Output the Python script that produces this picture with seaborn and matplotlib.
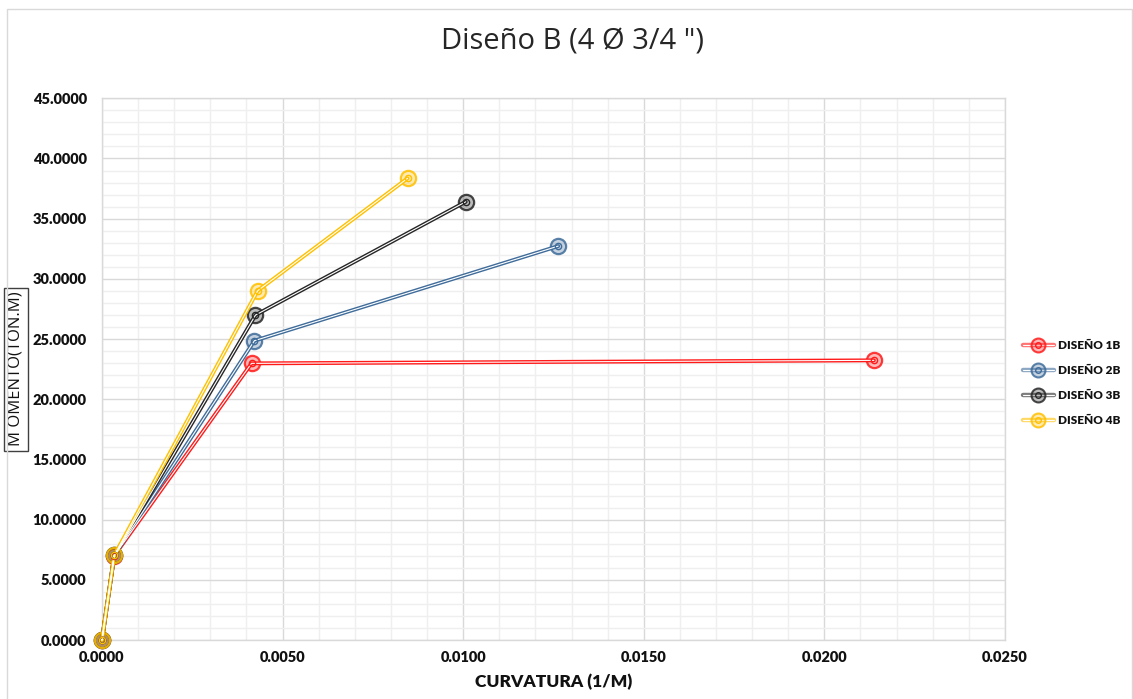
import numpy as np
import pandas as pd
import seaborn as sns
import matplotlib.pyplot as plt
from matplotlib.lines import Line2D
from matplotlib.legend_handler import HandlerTuple
from matplotlib.ticker import MultipleLocator, FormatStrFormatter
from matplotlib.patches import Rectangle
from matplotlib.colors import to_rgb

# Moment-curvature data, one series per design
series = ["DISEÑO 1B", "DISEÑO 2B", "DISEÑO 3B", "DISEÑO 4B"]
curv_1b = [0.0, 0.00034, 0.00414, 0.02137]
mom_1b = [0.0, 7.00, 22.98, 23.23]
curv_2b = [0.0, 0.00034, 0.00422, 0.01263]
mom_2b = [0.0, 7.02, 24.86, 32.72]
curv_3b = [0.0, 0.00034, 0.00425, 0.01007]
mom_3b = [0.0, 7.02, 26.99, 36.40]
curv_4b = [0.0, 0.00034, 0.00431, 0.00846]
mom_4b = [0.0, 7.03, 29.01, 38.35]

colors = ["#FF1A1A", "#3F6C9A", "#262626", "#FFC000"]

frames = []
for name, cx, my in zip(series, [curv_1b, curv_2b, curv_3b, curv_4b],
                        [mom_1b, mom_2b, mom_3b, mom_4b]):
    frames.append(pd.DataFrame({"curv": cx, "mom": my, "serie": name}))
df = pd.concat(frames, ignore_index=True)

sns.set_theme(style="white")
plt.rcParams["font.family"] = ["Lato", "DejaVu Sans"]

fig = plt.figure(figsize=(11.33, 6.99), dpi=100)
ax = fig.add_axes([0.0900, 0.0844, 0.797, 0.775])

# chart frame
fig.patches.append(Rectangle((0.006, -0.01), 0.993, 0.997, transform=fig.transFigure,
                             fill=False, edgecolor="#d9d9d9", linewidth=1.0))

palette = dict(zip(series, colors))
# outer coloured stroke of the double line
sns.lineplot(data=df, x="curv", y="mom", hue="serie", palette=palette, sort=False,
             estimator=None, linewidth=2.8, marker="o", markersize=11,
             markeredgewidth=1.6, legend=False, ax=ax, zorder=3)
for ln, c in zip(ax.lines, colors):
    ln.set_markerfacecolor((*to_rgb(c), 0.3))
    ln.set_markeredgecolor((*to_rgb(c), 0.85))
    ln.set_clip_on(False)
# white core of the double line and the inner ring of the markers
for name, c in zip(series, colors):
    sub = df[df["serie"] == name]
    ax.plot(sub["curv"], sub["mom"], color="white", linewidth=0.8, zorder=4,
            clip_on=False)
    ax.plot(sub["curv"], sub["mom"], linestyle="none", marker="o", markersize=4.5,
            markerfacecolor="none", markeredgecolor=c, markeredgewidth=1.0, zorder=5,
            clip_on=False)

ax.set_xlim(0, 0.025)
ax.set_ylim(0, 45)
ax.xaxis.set_major_locator(MultipleLocator(0.005))
ax.xaxis.set_minor_locator(MultipleLocator(0.001))
ax.yaxis.set_major_locator(MultipleLocator(5))
ax.yaxis.set_minor_locator(MultipleLocator(1))
ax.xaxis.set_major_formatter(FormatStrFormatter("%.4f"))
ax.yaxis.set_major_formatter(FormatStrFormatter("%.4f"))
ax.grid(which="major", color="#d9d9d9", linewidth=1.0)
ax.grid(which="minor", color="#efefef", linewidth=1.0)
ax.set_axisbelow(True)
for sp in ax.spines.values():
    sp.set_color("#d9d9d9")
    sp.set_linewidth(1.0)
ax.tick_params(which="both", length=0)
ax.tick_params(axis="y", pad=11)
ax.tick_params(axis="x", pad=8)
for lab in ax.get_xticklabels() + ax.get_yticklabels():
    lab.set_fontweight("heavy")
    lab.set_fontsize(10.5)
    lab.set_color("#111111")

fig.text(0.5057, 0.94, 'Diseño B (4 Ø 3/4 ")', fontsize=21, color="#262626",
         family=["Open Sans", "DejaVu Sans"], ha="center", va="center")
ax.set_xlabel("CURVATURA (1/M)", fontsize=12.5, fontweight="heavy", color="#111111",
              labelpad=7)
ax.set_ylabel("M OMENTO(TON.M)", fontsize=12, color="#111111",
              family=["Open Sans", "DejaVu Sans"],
              bbox=dict(boxstyle="square,pad=0.25", facecolor="white",
                        edgecolor="#404040", linewidth=1.0))
ax.yaxis.set_label_coords(-0.0865, 0.5)

handles = []
for c in colors:
    rgb = to_rgb(c)
    h1 = Line2D([], [], color=(*rgb, 0.6), linewidth=3.2)
    h2 = Line2D([], [], color="white", linewidth=0.8)
    h3 = Line2D([], [], linestyle="none", marker="o", markersize=10,
                markerfacecolor=(*rgb, 0.3), markeredgecolor=(*rgb, 0.85),
                markeredgewidth=1.5)
    h4 = Line2D([], [], linestyle="none", marker="o", markersize=4,
                markerfacecolor="none", markeredgecolor=c, markeredgewidth=1.0)
    handles.append((h1, h2, h3, h4))
leg = ax.legend(handles, series, handler_map={tuple: HandlerTuple(ndivide=1, pad=0)},
                loc="center left", bbox_to_anchor=(1.008, 0.474), frameon=False,
                handlelength=2.6, labelspacing=1.2, handletextpad=0.35,
                prop={"weight": "heavy", "size": 8.5})
for t in leg.get_texts():
    t.set_color("#111111")

fig.savefig("out.png", dpi=100)
